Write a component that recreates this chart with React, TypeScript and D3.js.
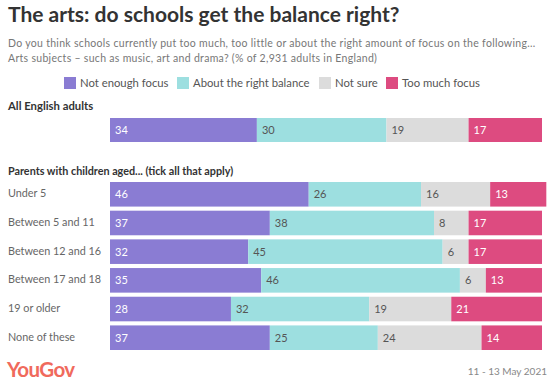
import React from "react";
import * as d3 from "d3";

const seriesNames = ["Not enough focus", "About the right balance", "Not sure", "Too much focus"];
const colors = ["#8a7cd3", "#9ddfe0", "#dcdcdc", "#dd4b80"];
const labelColors = ["#ffffff", "#555555", "#555555", "#ffffff"];

const topCategory = ["All English adults"];
const topValues = [[34, 30, 19, 17]];

const parentCategories = ["Under 5", "Between 5 and 11", "Between 12 and 16", "Between 17 and 18", "19 or older", "None of these"];
const notEnough = [46, 37, 32, 35, 28, 37];
const rightBalance = [26, 38, 45, 46, 32, 25];
const notSure = [16, 8, 6, 6, 19, 24];
const tooMuch = [13, 17, 17, 13, 21, 14];

const W = 558;
const H = 388;
const FONT = "Lato, 'Open Sans', sans-serif";

export default function App() {
  const x = d3.scaleLinear().domain([0, 100]).range([110, 542]);
  const yParents = d3.scaleBand<string>().domain(parentCategories).range([182, 350]).paddingInner(4 / 28).paddingOuter(0).align(0);
  const parentRows = parentCategories.map((c, i) => [notEnough[i], rightBalance[i], notSure[i], tooMuch[i]]);

  const renderRow = (vals: number[], y: number, h: number, key: string) => {
    let cum = 0;
    return (
      <g key={key}>
        {vals.map((v, j) => {
          const x0 = x(cum);
          const x1 = x(cum + v);
          cum += v;
          return (
            <g key={j}>
              <rect x={x0} y={y} width={x1 - x0} height={h} fill={colors[j]} />
              <text x={x0 + 5} y={y + h / 2} dy="0.36em" fontSize={11} fill={labelColors[j]} fontFamily={FONT}>
                {v}
              </text>
            </g>
          );
        })}
      </g>
    );
  };

  const legendX = [64, 177, 319, 386];

  return (
    <svg width={W} height={H} style={{ position: "absolute", left: 0, top: 0 }} fontFamily={FONT}>
      <rect width={W} height={H} fill="#fff" />
      <text x={8} y={22} fontSize={21} fontWeight={700} fill="#333">
        The arts: do schools get the balance right?
      </text>
      <text x={8} y={46.5} fontSize={10.5} fill="#777" letterSpacing={0.3}>
        Do you think schools currently put too much, too little or about the right amount of focus on the following...
      </text>
      <text x={8} y={61.5} fontSize={10.5} fill="#777" letterSpacing={0.3}>
        Arts subjects – such as music, art and drama? (% of 2,931 adults in England)
      </text>
      {seriesNames.map((s, i) => (
        <g key={s}>
          <rect x={legendX[i]} y={77} width={12} height={12} fill={colors[i]} />
          <text x={legendX[i] + 16} y={83} dy="0.36em" fontSize={11.3} fill="#555">
            {s}
          </text>
        </g>
      ))}
      <text x={8} y={106} dy="0.36em" fontSize={11.3} fontWeight={700} fill="#333">
        {topCategory[0]}
      </text>
      {renderRow(topValues[0], 118, 24, "top")}
      <text x={8} y={171} dy="0.36em" fontSize={10.8} fontWeight={700} fill="#333">
        Parents with children aged... (tick all that apply)
      </text>
      {parentCategories.map((c, i) => (
        <g key={c}>
          <text x={8} y={(yParents(c) as number) + yParents.bandwidth() / 2 - 1} dy="0.36em" fontSize={10.8} fill="#666">
            {c}
          </text>
          {renderRow(parentRows[i], yParents(c) as number, yParents.bandwidth(), c)}
        </g>
      ))}
      <text x={7} y={377} fontSize={20.5} fontWeight={700} fill="#f06a5c" letterSpacing={-0.6}>
        YouGov
      </text>
      <text x={547} y={375} textAnchor="end" fontSize={10} fill="#888">
        11 - 13 May 2021
      </text>
    </svg>
  );
}
